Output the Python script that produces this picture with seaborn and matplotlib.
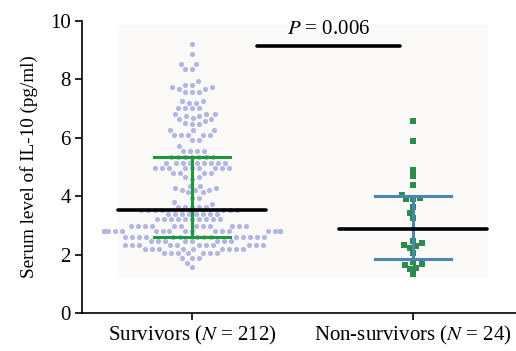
import numpy as np
import pandas as pd
import matplotlib
matplotlib.use("Agg")
import matplotlib.pyplot as plt
import seaborn as sns
from matplotlib.patches import Rectangle

# Values, row by row (value, count)
surv_rows = [(9.20, 1), (8.86, 1), (8.51, 2), (8.34, 2), (7.94, 1), (7.81, 2),
             (7.74, 2), (7.67, 2), (7.57, 3), (7.27, 2), (7.20, 2), (7.01, 4),
             (6.81, 3), (6.74, 2), (6.68, 1), (6.63, 2), (6.57, 1), (6.52, 1),
             (6.47, 2), (6.26, 3), (6.09, 5), (5.91, 2), (5.73, 1), (5.55, 4),
             (5.35, 7), (5.15, 9), (4.95, 9), (4.78, 4), (4.65, 2), (4.58, 1),
             (4.36, 2), (4.29, 2), (4.21, 3), (4.13, 2), (3.95, 2), (3.81, 1),
             (3.73, 1), (3.64, 5), (3.52, 7), (3.40, 8), (3.21, 10), (2.98, 12),
             (2.80, 20), (2.62, 14), (2.47, 8), (2.32, 11), (2.20, 9), (2.05, 7),
             (1.88, 3), (1.73, 1), (1.59, 1)]
survivors = [v for v, n in surv_rows for _ in range(n)]

non_survivors = [6.57, 5.89, 4.90, 4.68, 4.40, 4.04, 3.95, 3.90, 3.90, 3.62,
                 3.43, 3.25, 2.48, 2.32, 2.30, 2.41, 2.23, 2.05, 1.75, 1.64,
                 1.56, 1.68, 1.51, 1.33]

groups = ["Survivors", "Non-survivors"]
tick_labels = [r"Survivors ($N$ = 212)", r"Non-survivors ($N$ = 24)"]
medians = [3.52, 2.87]
q1 = [2.62, 1.85]
q3 = [5.35, 4.02]
p_text = r"$P$ = 0.006"
p_bar_y = 9.14

df = pd.DataFrame({
    "group": ["Survivors"] * len(survivors) + ["Non-survivors"] * len(non_survivors),
    "il10": survivors + non_survivors,
})

plt.rcParams["font.family"] = ["Liberation Serif", "DejaVu Serif"]
plt.rcParams["mathtext.fontset"] = "stix"
FS = 15

fig = plt.figure(figsize=(5.16, 3.51), dpi=100)
ax = fig.add_axes([0.159, 0.1074, 0.841, 0.8336])

# faint panel behind the points
ax.add_patch(Rectangle((-0.34, 1.2), 1.68, 8.65, facecolor="#fbfaf8",
                       edgecolor="none", zorder=0))

# swarm laid out with a roomy marker size, then redrawn with smaller dots
sns.swarmplot(data=df[df["group"] == "Survivors"], x="group", y="il10",
              order=groups, color="#b2b6e2", size=4.7, marker="o",
              linewidth=0, ax=ax, zorder=2)
n_first = len(ax.collections)
sns.swarmplot(data=df[df["group"] == "Non-survivors"], x="group", y="il10",
              order=groups, color="#2e8b4e", size=4.5, marker="s",
              linewidth=0, ax=ax, zorder=2)
fig.canvas.draw()
swarm = []
for k, c in enumerate(ax.collections):
    offs = c.get_offsets()
    if len(offs) == 0:
        continue
    mk = "o" if k < n_first else "s"
    swarm.append((np.asarray(offs).copy(), c.get_facecolor()[0], mk))
for c in list(ax.collections):
    c.remove()
for offs, fc, mk in swarm:
    ax.scatter(offs[:, 0], offs[:, 1], s=3.7 ** 2, marker=mk, color=fc,
               linewidths=0, zorder=2)

iqr_cols = ["#1a9a3a", "#4a86b2"]
for i in range(2):
    ax.plot([i - 0.172, i + 0.172], [q3[i], q3[i]], color=iqr_cols[i], lw=2.2, zorder=3)
    ax.plot([i - 0.172, i + 0.172], [q1[i], q1[i]], color=iqr_cols[i], lw=2.2, zorder=3)
    ax.plot([i, i], [q1[i], q3[i]], color=iqr_cols[i], lw=2.2, zorder=3)
    ax.plot([i - 0.335, i + 0.335], [medians[i], medians[i]], color="black",
            lw=2.6, zorder=4, solid_capstyle="round")

ax.plot([0.294, 0.94], [p_bar_y, p_bar_y], color="black", lw=2.6,
        solid_capstyle="round")
ax.text(0.617, 9.38, p_text, ha="center", va="bottom", fontsize=FS)

ax.set_xlim(-0.498, 1.466)
ax.set_ylim(0, 10)
ax.set_yticks([0, 2, 4, 6, 8, 10])
ax.set_xticks([0, 1])
ax.set_xticklabels(tick_labels)
ax.set_xlabel("")
ax.set_ylabel("Serum level of IL-10 (pg/ml)", fontsize=13.8, labelpad=9)
ax.tick_params(labelsize=FS, length=5, width=1.2, color="black", pad=3)
for s in ["top", "right"]:
    ax.spines[s].set_visible(False)
for s in ["left", "bottom"]:
    ax.spines[s].set_linewidth(1.2)
ax.set_facecolor("white")

fig.savefig("out.png", dpi=100)
